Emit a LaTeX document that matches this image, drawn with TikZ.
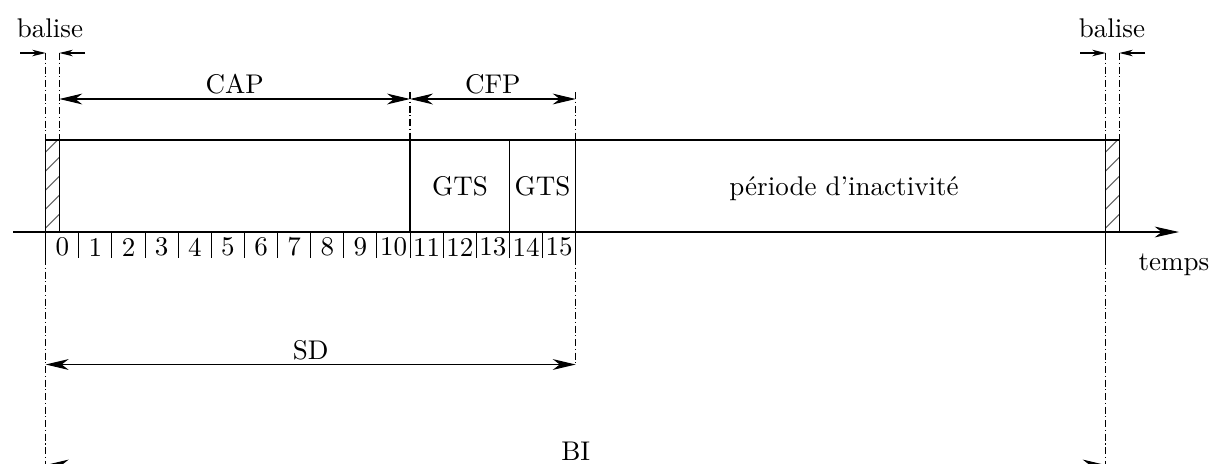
\documentclass[tikz,border=0pt]{standalone}
\usetikzlibrary{arrows.meta,positioning}
\tikzset{cote/.style={{Stealth[length=8.5pt,width=4pt,inset=2.6pt]}-{Stealth[length=8.5pt,width=4pt,inset=2.6pt]}},
	balise fleche/.style={-{Stealth[length=5pt,width=2.4pt,inset=1.5pt]}},
	axe/.style={-{Stealth[length=9pt,width=4pt,inset=2.6pt]}},
	repere/.style={dash pattern=on 2.6pt off 1pt on 0.4pt off 1pt},
	hachure/.style={gray!75!black},
	texte/.style={inner sep=1.5pt},
}

\begin{document}
\begin{tikzpicture}[x=0.37pt,y=-0.37pt]
	\useasboundingbox (0,0) rectangle (1211,463);
	% trame
	\coordinate (b0) at (45.7,140);
	\coordinate (b1) at (59.3,140);
	\coordinate (b2) at (1105.7,140);
	\coordinate (b3) at (1119.3,140);
	\coordinate (f0) at (410,140);
	\coordinate (f1) at (509.5,140);
	\coordinate (f2) at (575.7,140);
	\coordinate (o) at (13,232);
	\coordinate (t) at (1179,232);
	% reperes
	\coordinate (r0) at (45.7,53);
	\coordinate (r1) at (59.3,53);
	\coordinate (r2) at (1105.7,53);
	\coordinate (r3) at (1119.3,53);
	\coordinate (c0) at (410,92);
	\coordinate (c1) at (575.7,92);
	\coordinate (q0) at (45.7,258);
	\coordinate (q1) at (575.7,258);
	\coordinate (q2) at (1105.7,258);
	% cotes
	\coordinate (cap0) at (59.3,99);
	\coordinate (cap1) at (410,99);
	\coordinate (cfp1) at (575.7,99);
	\coordinate (sd0) at (45.7,364.5);
	\coordinate (sd1) at (575.7,364.5);
	\coordinate (bi0) at (45.7,465);
	\coordinate (bi1) at (1105.7,465);
	\coordinate (l0) at (20,53);
	\coordinate (l1) at (85,53);
	\coordinate (l2) at (1080,53);
	\coordinate (l3) at (1145,53);

	% balises hachurees
	\foreach \x in {45.7,1105.7}{
		\begin{scope}
			\clip (\x,140) rectangle ++(13.6,92);
			\foreach \y in {152,171,...,247}
				\draw[hachure] (\x,\y) -- ++(13.6,-13.6);
		\end{scope}
	}

	\draw (b0) rectangle (b3 |- o);
	\foreach \p in {b1,f0,f1,f2,b2}
		\draw (\p) -- (\p |- o);
	\draw[axe] (o) -- (t);

	% creneaux
	\foreach \n in {0,...,16}
		\draw (45.7+\n*33.125,232) -- ++(0,26);
	\draw (b2 |- o) -- (q2);
	\foreach \n in {0,...,15}
		\node (s\n) at (45.7+\n*33.125+16.56,247) {\n};

	\path[draw,repere]
	(r0) edge (b0)
	(r1) edge (b1)
	(r2) edge (b2)
	(r3) edge (b3)
	(c0) edge (f0)
	(c1) edge (f2)
	(q0) edge (bi0)
	(q1) edge (sd1)
	(q2) edge (bi1);

	\draw[balise fleche] (l0) -- (r0);
	\draw[balise fleche] (l1) -- (r1);
	\draw[balise fleche] (l2) -- (r2);
	\draw[balise fleche] (l3) -- (r3);
	\node (balise1) at (50,28) {balise};
	\node (balise2) at (1112,28) {balise};

	\path[draw]
	(cap0) edge[cote] node[above,texte] {CAP} (cap1)
	(cap1) edge[cote] node[above,texte] {CFP} (cfp1)
	(sd0) edge[cote] node[above,texte] {SD} (sd1)
	(bi0) edge[cote] node[above,texte] {BI} (bi1);

	\node[anchor=base] (gts1) at (460,195) {GTS};
	\node[anchor=base] (gts2) at (542.6,195) {GTS};
	\node[anchor=base] (inact) at (844,195) {période d'inactivité};
	\node (temps) at (1174,265) {temps};
\end{tikzpicture}
\end{document}
